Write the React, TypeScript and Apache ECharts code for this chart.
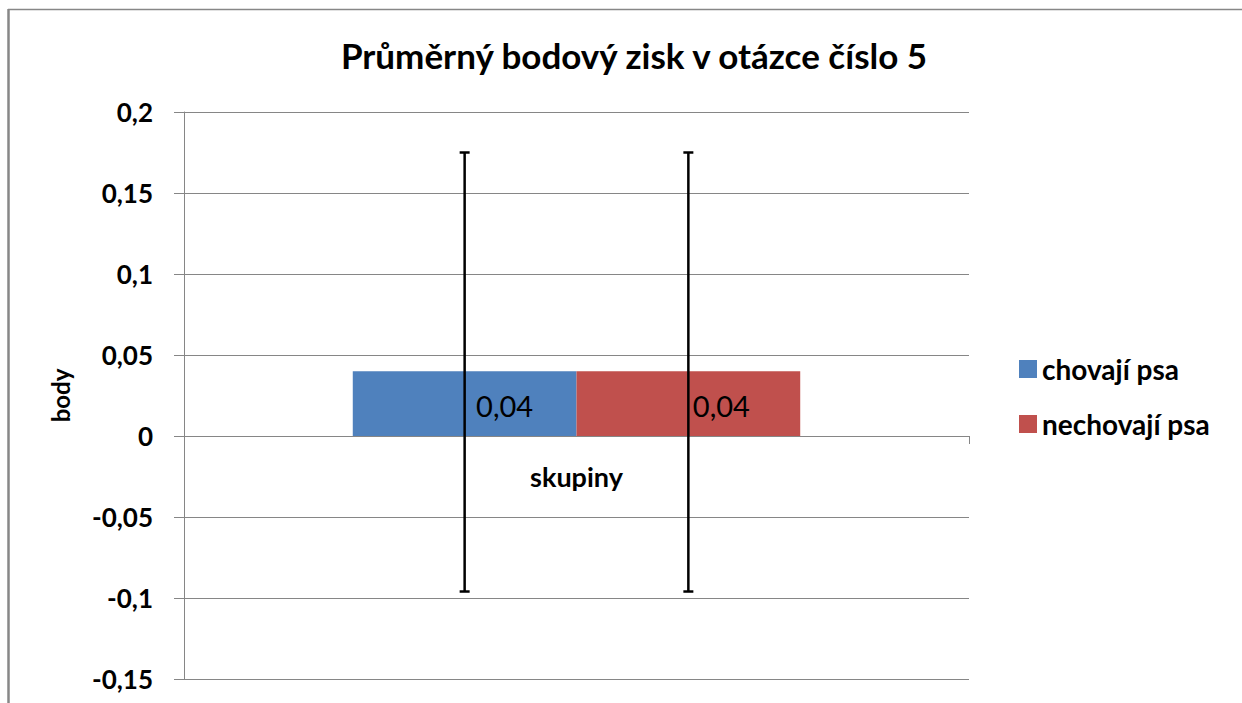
import React, { useEffect, useRef } from "react";
import * as echarts from "echarts";

const titleText = "Průměrný bodový zisk v otázce číslo 5";
const categories = ["skupiny"];
const seriesNames = ["chovají psa", "nechovají psa"];
const values = [0.04, 0.04];
const errLow = [-0.096, -0.096];
const errHigh = [0.175, 0.175];
const colors = ["#4F81BD", "#C0504D"];
const yMin = -0.15;
const yMax = 0.2;
const yInterval = 0.05;
const labelOffsets = [[40, 2], [33, 2]];

const BAR_FRAC = 0.285;
const FONT = "Lato, 'Noto Sans', sans-serif";

const fmt = (v: number) => String(Number(v.toFixed(2))).replace(".", ",");

export default function App() {
  const ref = useRef<HTMLDivElement>(null);
  useEffect(() => {
    if (!ref.current) return;
    const chart = echarts.init(ref.current, undefined, { renderer: "svg" });
    const barSeries = seriesNames.map((name, i) => ({
      name,
      type: "bar",
      data: [values[i]],
      barWidth: BAR_FRAC * 100 + "%",
      barGap: "0%",
      itemStyle: { color: colors[i] },
      label: {
        show: true,
        position: "inside",
        offset: labelOffsets[i],
        formatter: (p: any) => fmt(p.value),
        color: "#000",
        fontSize: 29,
        fontFamily: FONT,
      },
      z: 2,
    }));
    const errData = seriesNames.map((_, i) => [0, errLow[i], errHigh[i], i]);
    chart.setOption({
      animation: false,
      backgroundColor: "#fff",
      title: {
        text: titleText,
        left: 629,
        top: 32,
        textAlign: "center",
        textStyle: { fontFamily: FONT, fontSize: 35, fontWeight: "bold", color: "#000" },
      },
      legend: {
        data: seriesNames,
        orient: "vertical",
        left: 1014,
        top: 350,
        icon: "rect",
        itemWidth: 18,
        itemHeight: 18,
        itemGap: 27,
        textStyle: { fontFamily: FONT, fontSize: 28, fontWeight: "bold", color: "#000" },
      },
      grid: {
        left: 184,
        right: 273,
        top: 112,
        bottom: 24,
        containLabel: false,
        outerBoundsMode: "none",
      },
      xAxis: {
        type: "category",
        data: categories,
        offset: -243,
        axisLine: { show: true, onZero: false, lineStyle: { color: "#868686", width: 1 } },
        axisTick: { show: true, length: 8, lineStyle: { color: "#868686" } },
        axisLabel: { color: "#000", fontSize: 27, fontWeight: "bold", fontFamily: FONT, margin: 27 },
        splitLine: { show: false },
      },
      yAxis: {
        type: "value",
        min: yMin,
        max: yMax,
        interval: yInterval,
        name: "body",
        nameLocation: "middle",
        nameGap: 112,
        nameTextStyle: {
          fontFamily: FONT,
          fontSize: 24,
          fontWeight: "bold",
          color: "#000",
        },
        axisLine: { show: true, lineStyle: { color: "#868686", width: 1 } },
        axisTick: { show: true, length: 10, lineStyle: { color: "#868686" } },
        axisLabel: {
          formatter: fmt,
          color: "#000",
          fontSize: 26,
          fontWeight: "bold",
          fontFamily: FONT,
          margin: 31,
        },
        splitLine: { show: true, lineStyle: { color: "#868686", width: 1 } },
      },
      graphic: [
        { type: "line", shape: { x1: 8, y1: 9.5, x2: 1242, y2: 9.5 }, style: { stroke: "#878787", lineWidth: 1.5 } },
        { type: "line", shape: { x1: 8.5, y1: 9, x2: 8.5, y2: 703 }, style: { stroke: "#878787", lineWidth: 2.5 } },
      ],
      series: [
        ...barSeries,
        {
          type: "custom",
          name: "err",
          data: errData,
          encode: { x: 0, y: [1, 2] },
          z: 5,
          silent: true,
          renderItem: (params: any, api: any) => {
            const cx = api.coord([api.value(0), 0])[0];
            const band = api.size([1, 0])[0];
            const idx = api.value(3);
            const x = cx + (idx - 0.5) * band * BAR_FRAC;
            const yl = api.coord([api.value(0), api.value(1)])[1];
            const yh = api.coord([api.value(0), api.value(2)])[1];
            const st = { stroke: "#000", lineWidth: 2.5 };
            const cap = 5;
            return {
              type: "group",
              children: [
                { type: "line", shape: { x1: x, y1: yl, x2: x, y2: yh }, style: st },
                { type: "line", shape: { x1: x - cap, y1: yh, x2: x + cap, y2: yh }, style: st },
                { type: "line", shape: { x1: x - cap, y1: yl, x2: x + cap, y2: yl }, style: st },
              ],
            };
          },
        },
      ],
    });
    return () => chart.dispose();
  }, []);
  return (
    <div
      ref={ref}
      style={{ position: "fixed", left: 0, top: 0, width: 1242, height: 703 }}
    />
  );
}
